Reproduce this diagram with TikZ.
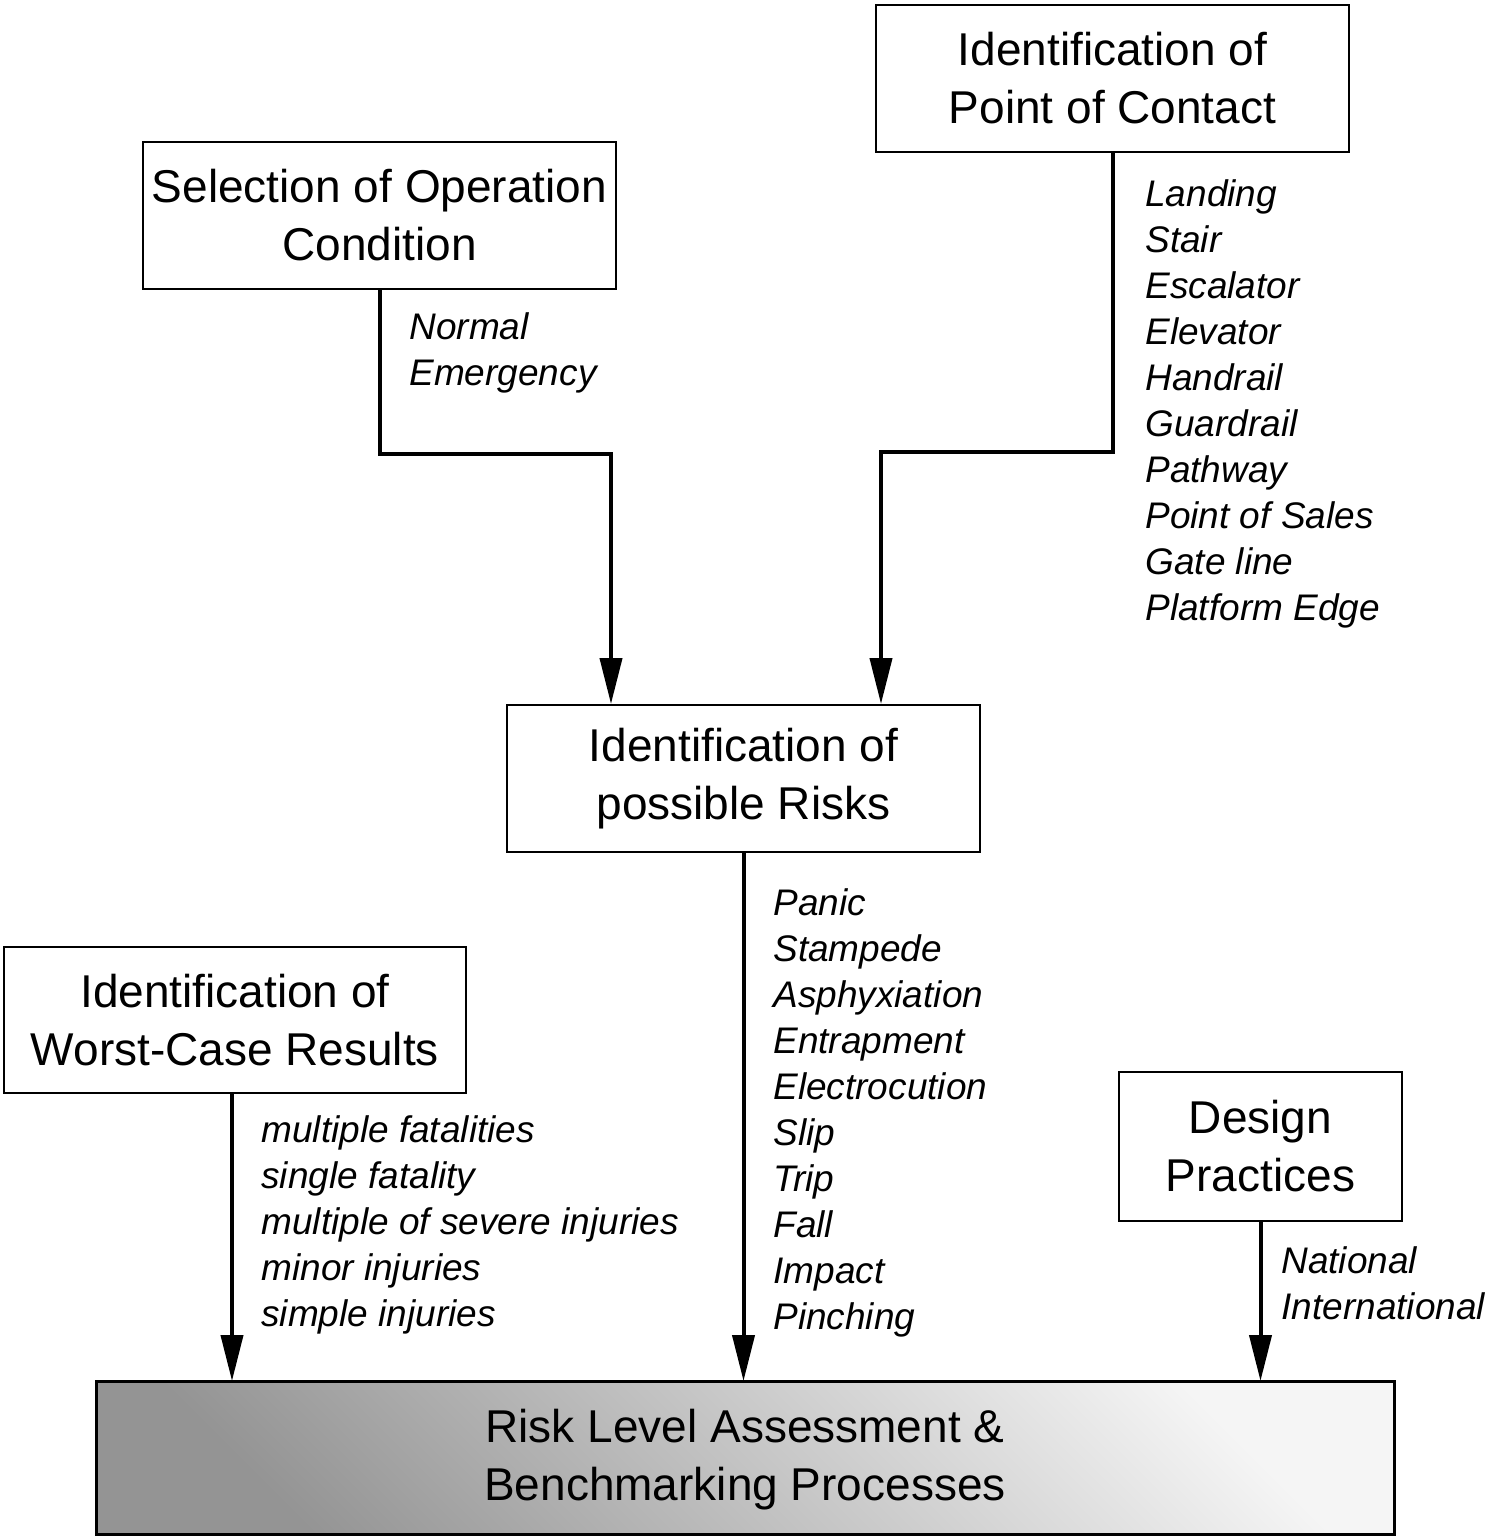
\documentclass[tikz,border=0pt]{standalone}
\usepackage{fontspec}
\setmainfont{Liberation Sans}
\usetikzlibrary{arrows.meta}
\begin{document}
\begin{tikzpicture}[x=0.5pt,y=-0.5pt,
  box/.style={draw=black,line width=1pt,fill=white,align=center,inner sep=0pt,
    font=\fontsize{23}{29}\selectfont},
  lst/.style={align=left,inner sep=0pt,anchor=west,
    font=\fontsize{18.5}{23}\selectfont\itshape},
  conn/.style={line width=2pt,-{Triangle[length=23pt,width=11pt]}},
  link/.style={line width=2pt}]
\useasboundingbox (0,0) rectangle (1488,1537);
\node[box,minimum width=236.5pt,minimum height=73.5pt] (soc) at (379.5,215.5) {Selection of Operation\\Condition};
\node[box,minimum width=236.5pt,minimum height=73.5pt] (ipc) at (1112.5,78.5) {Identification of\\Point of Contact};
\node[box,minimum width=236.5pt,minimum height=73.5pt] (ipr) at (743.5,778.5) {Identification of\\possible Risks};
\node[box,minimum width=231pt,minimum height=73pt] (iwr) at (235,1020) {Identification of\\Worst-Case Results};
\node[box,minimum width=141.5pt,minimum height=74.5pt] (dp) at (1260.5,1146.5) {Design\\Practices};
\node[box,draw=none,fill=none,minimum width=648pt,minimum height=75.5pt] (rla) at (745,1457.5) {};
\shade[shading=axis,top color=black!42,bottom color=black!4,shading angle=135]
  (rla.south west) rectangle (rla.north east);
\draw[line width=1.5pt] (rla.south west) rectangle (rla.north east);
\node[box,draw=none,fill=none] (rlat) at ([yshift=-1pt]rla.center) {Risk Level Assessment \&\\Benchmarking Processes};

\node[lst] (l1) at (409,353) {Normal\\Emergency};
\node[lst] (l2) at (1145,404) {Landing\\Stair\\Escalator\\Elevator\\Handrail\\Guardrail\\Pathway\\Point of Sales\\Gate line\\Platform Edge};
\node[lst] (l3) at (773,1113) {Panic\\Stampede\\Asphyxiation\\Entrapment\\Electrocution\\Slip\\Trip\\Fall\\Impact\\Pinching};
\node[lst] (l4) at (261,1225) {multiple fatalities\\single fatality\\multiple of severe injuries\\minor injuries\\simple injuries};
\node[lst] (l5) at (1281,1283) {National\\International};

\coordinate (c1) at (611,454);
\coordinate (c2) at (881,452);
\draw[conn] (soc.south) |- (c1) -- (c1 |- ipr.north);
\draw[conn] (ipc.south) |- (c2) -- (c2 |- ipr.north);
\draw[conn] (ipr.south) -- (ipr.south |- rla.north);
\draw[conn] ([xshift=-1.5pt]iwr.south) -- ([xshift=-1.5pt]iwr.south |- rla.north);
\draw[conn] (dp.south) -- (dp.south |- rla.north);
\end{tikzpicture}
\end{document}
